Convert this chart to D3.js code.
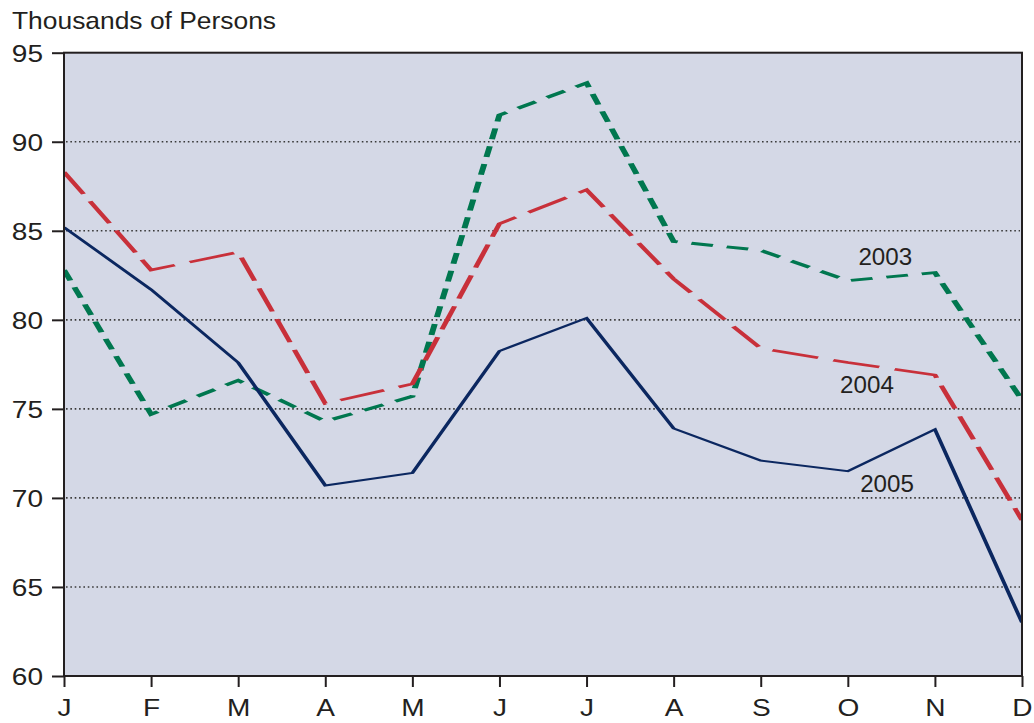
<!DOCTYPE html>
<html>
<head>
<meta charset="utf-8">
<script src="https://cdn.jsdelivr.net/npm/d3@7"></script>
<style>
  body { margin: 0; background: #ffffff; }
  text { font-family: "Liberation Sans", Arial, Helvetica, sans-serif; fill: #231f20; }
  .wide-r { transform-box: fill-box; transform-origin: right center; transform: scale(1.22, 1); }
  .wide-c { transform-box: fill-box; transform-origin: center center; transform: scale(1.22, 1); }
  .wide-l { transform-box: fill-box; transform-origin: left center; transform: scale(1.1, 1); }
  .lbl    { transform-box: fill-box; transform-origin: center center; transform: scale(1.05, 1); }
</style>
</head>
<body>
<svg id="chart" width="1034" height="723"></svg>
<script>
// Monthly values, thousands of persons
const months = ["J", "F", "M", "A", "M", "J", "J", "A", "S", "O", "N", "D"];
const yTicks = [60, 65, 70, 75, 80, 85, 90, 95];
const gridValues = [65, 70, 75, 80, 85, 90];
const values2003 = [82.8, 74.7, 76.6, 74.3, 75.7, 91.5, 93.3, 84.4, 83.9, 82.2, 82.65, 75.5];
const values2004 = [88.3, 82.8, 83.8, 75.3, 76.4, 85.4, 87.3, 82.3, 78.4, 77.6, 76.9, 68.75];
const values2005 = [85.2, 81.7, 77.6, 70.7, 71.4, 78.25, 80.1, 73.9, 72.1, 71.5, 73.85, 63.0];
const seriesNames = ["2003", "2004", "2005"];

// Where each year's label sits, in data units (month index, value)
const labelIndex = [9.43, 9.22, 9.45];
const labelValue = [83.08, 75.88, 70.35];

const styles = [
  { color: "#00774f", width: 3,   dash: "11 7" },
  { color: "#c8303a", width: 2.6, dash: "24 8" },
  { color: "#0b2760", width: 2,   dash: null }
];
const allSeries = [values2003, values2004, values2005];

const svg = d3.select("#chart");
const plotLeft = 64, plotRight = 1022, plotTop = 52.7, plotBottom = 676;

const x = d3.scalePoint().domain(d3.range(months.length)).range([plotLeft, plotRight]);
const y = d3.scaleLinear().domain([60, 95]).range([plotBottom, plotTop]);

// Plot background
svg.append("rect")
  .attr("x", plotLeft).attr("y", plotTop)
  .attr("width", plotRight - plotLeft).attr("height", plotBottom - plotTop)
  .attr("fill", "#d4d8e6");

// Dotted gridlines
svg.append("g")
  .selectAll("line")
  .data(gridValues)
  .join("line")
  .attr("x1", plotLeft + 2).attr("x2", plotRight - 2)
  .attr("y1", d => y(d)).attr("y2", d => y(d))
  .attr("stroke", "#3a3a3a")
  .attr("stroke-width", 1.6)
  .attr("stroke-dasharray", "1.6 2.75");

// Lines are drawn in a horizontally stretched space (2:1), which widens
// dashes and strokes on flat runs as in the printed figure.
const k = 2;
const xs = d3.scalePoint().domain(d3.range(months.length)).range([0, (plotRight - plotLeft) / k]);

svg.append("clipPath").attr("id", "plotClip")
  .append("rect")
  .attr("x", plotLeft).attr("y", plotTop)
  .attr("width", plotRight - plotLeft).attr("height", plotBottom - plotTop);

const clipG = svg.append("g").attr("clip-path", "url(#plotClip)");
const lineG = clipG.append("g").attr("transform", `translate(${plotLeft},0) scale(${k},1)`);

const line = d3.line()
  .x((d, i) => xs(i))
  .y(d => y(d));

allSeries.forEach((vals, s) => {
  lineG.append("path")
    .datum(vals)
    .attr("d", line)
    .attr("fill", "none")
    .attr("stroke", styles[s].color)
    .attr("stroke-width", styles[s].width)
    .attr("stroke-dasharray", styles[s].dash)
    .attr("stroke-linejoin", "miter")
    .attr("stroke-linecap", "butt");
});

// Frame around the plot
svg.append("rect")
  .attr("x", plotLeft).attr("y", plotTop)
  .attr("width", plotRight - plotLeft).attr("height", plotBottom - plotTop)
  .attr("fill", "none")
  .attr("stroke", "#231f20")
  .attr("stroke-width", 2);

// Y axis
const yAxis = svg.append("g")
  .attr("transform", `translate(${plotLeft},0)`)
  .call(d3.axisLeft(y).tickValues(yTicks).tickSize(12).tickSizeOuter(0).tickPadding(9).tickFormat(d3.format("d")));
yAxis.select(".domain").remove();
yAxis.selectAll(".tick line").attr("stroke", "#231f20").attr("stroke-width", 2);
yAxis.selectAll(".tick text")
  .attr("class", "wide-r")
  .attr("dy", "0.37em")
  .style("font-size", "23px")
  .attr("fill", "#231f20");

// X axis
const xAxis = svg.append("g")
  .attr("transform", `translate(0,${plotBottom})`)
  .call(d3.axisBottom(x).tickSize(11).tickSizeOuter(0).tickFormat(i => months[i]));
xAxis.select(".domain").remove();
xAxis.selectAll(".tick line").attr("stroke", "#231f20").attr("stroke-width", 2);
xAxis.selectAll(".tick text")
  .attr("class", "wide-c")
  .attr("y", 40.5)
  .attr("dy", null)
  .style("font-size", "23px")
  .attr("fill", "#231f20");

// Unit title
svg.append("text")
  .attr("class", "wide-l")
  .attr("x", 12).attr("y", 29)
  .style("font-size", "24px")
  .text("Thousands of Persons");

// Year labels
svg.append("g")
  .selectAll("text")
  .data(seriesNames)
  .join("text")
  .attr("class", "lbl")
  .attr("x", (d, i) => x(0) + (x(1) - x(0)) * labelIndex[i])
  .attr("y", (d, i) => y(labelValue[i]))
  .attr("text-anchor", "middle")
  .style("font-size", "23px")
  .text(d => d);
</script>
</body>
</html>
